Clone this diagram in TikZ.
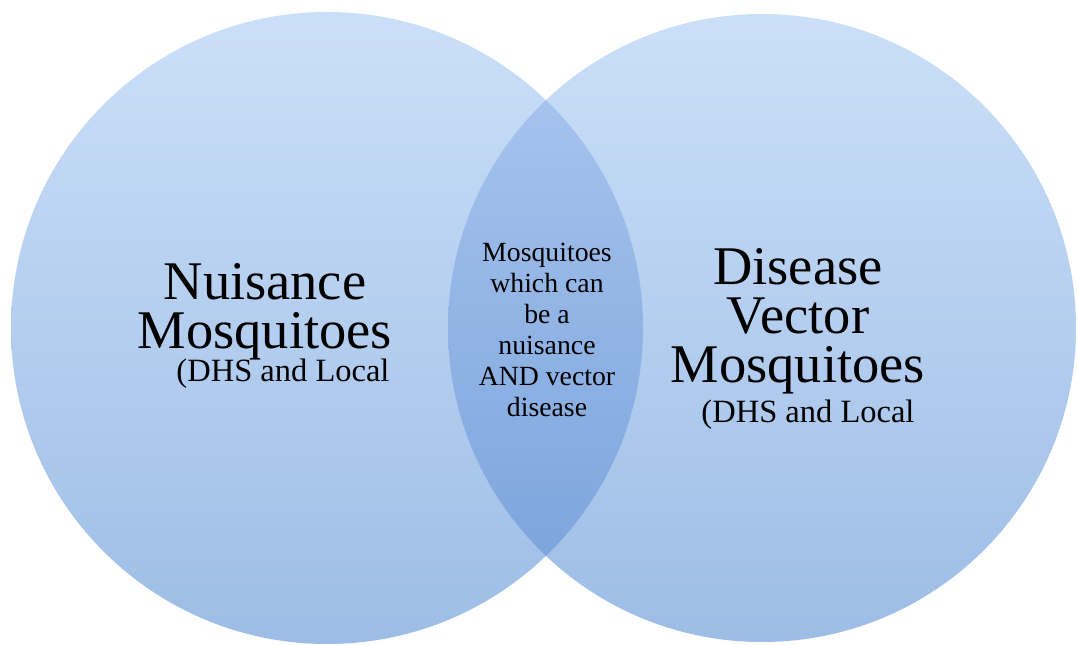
\documentclass[tikz,border=0pt]{standalone}
\usepackage{fontspec}
\setmainfont{Liberation Serif}
\definecolor{ringtop}{RGB}{203,223,248}
\definecolor{ringbot}{RGB}{157,189,230}
\definecolor{lenstop}{RGB}{172,200,240}
\definecolor{lensbot}{RGB}{118,160,218}
\tikzset{
    ring/.style={top color=ringtop, bottom color=ringbot},
    lens/.style={top color=lenstop, bottom color=lensbot},
    bigtext/.style={font=\fontsize{31}{27.8}\selectfont, align=center, inner sep=0pt},
    subtext/.style={font=\fontsize{18.5}{22}\selectfont, inner sep=0pt},
    midtext/.style={font=\fontsize{15.8}{17.6}\selectfont, align=center, inner sep=0pt}
}
\begin{document}
\begin{tikzpicture}[x=0.02cm, y=0.02cm]
    \fill[white] (0,0) rectangle (1078,645);
    \useasboundingbox (0,0) rectangle (1078,645);
    \coordinate (nuis) at (327,317);
    \coordinate (vect) at (762,317);
    % the two sets
    \shade[ring] (nuis) circle (316);
    \shade[ring] (vect) circle (314);
    % overlap
    \begin{scope}
        \clip (vect) circle (314);
        \shade[lens] (nuis) circle (316);
    \end{scope}
    \node[bigtext, anchor=north] (nuislabel) at (265,382) {Nuisance\\Mosquitoes};
    \node[subtext, anchor=base] (nuissub) at (283,263) {(DHS and Local};
    \node[bigtext, anchor=north] (vectlabel) at (798,397) {Disease\\Vector\\Mosquitoes};
    \node[subtext, anchor=base] (vectsub) at (808,222) {(DHS and Local};
    \node[midtext, anchor=north] (bothlabel) at (547,402) {Mosquitoes\\which can\\be a\\nuisance\\AND vector\\disease};
\end{tikzpicture}
\end{document}
